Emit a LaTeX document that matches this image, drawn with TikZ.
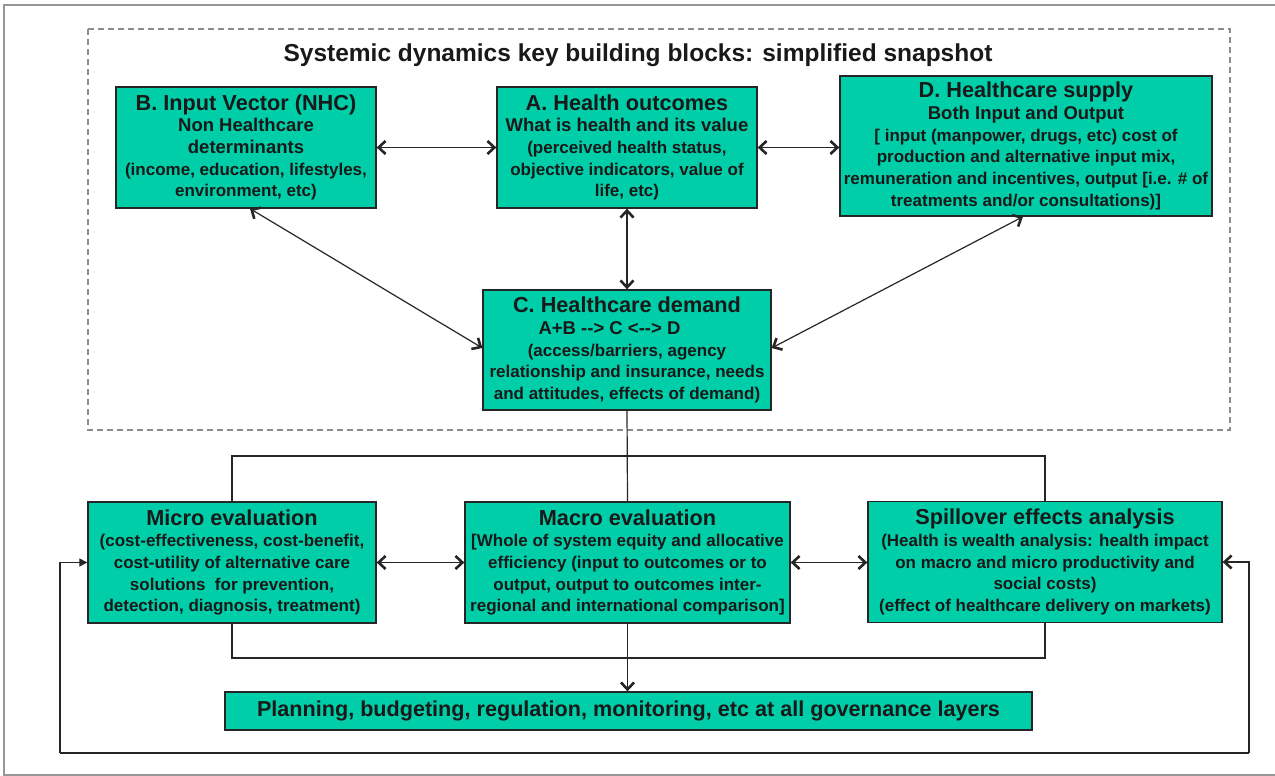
\documentclass[tikz,border=0pt]{standalone}
\usepackage{fontspec}
\setmainfont{Liberation Sans}
\usetikzlibrary{arrows.meta,calc}
\definecolor{boxfill}{RGB}{0,206,168}
\definecolor{framegray}{RGB}{150,150,150}
\definecolor{dashgray}{RGB}{140,140,140}
\newcommand{\boxttl}[1]{{\fontsize{21.7}{25}\selectfont #1}}
\newcommand{\boxsub}[1]{{\fontsize{18.5}{22}\selectfont #1}}
\begin{document}
\begin{tikzpicture}[x=1pt,y=-1pt,
  box/.style={draw=black!85, line width=1.3pt, fill=boxfill, align=center, inner sep=0pt,
    font=\bfseries\fontsize{17}{21.7}\selectfont, text=black!90},
  conn/.style={draw=black!85, line width=1.2pt},
  barb/.tip={Straight Barb[length=7pt,width=13pt,line width=2.6pt 0]},
  dbl/.style={conn, barb-barb},
  sgl/.style={conn, -barb},
  tri/.style={conn, -{Triangle[length=8pt,width=8pt]}}
]
\useasboundingbox (0,0) rectangle (1275,776);
% outer frame
\draw[framegray, line width=2pt] (1275,5) -- (4,5) -- (4,775) -- (1275,775);
% dashed frame
\draw[dashgray, line width=2pt, dash pattern=on 6pt off 4pt] (88,29) rectangle (1230,430);
\node[font=\bfseries\fontsize{24.5}{28}\selectfont, text=black!90] (title) at (638,55) {Systemic dynamics key building blocks: simplified snapshot};

% top boxes
\node[box, minimum width=260pt, minimum height=121pt] (B) at (246,147.5)
  {\boxttl{B. Input Vector (NHC)}\\ \boxsub{Non Healthcare}\\ \boxsub{determinants}\\ (income, education, lifestyles,\\ environment, etc)};
\node[box, minimum width=260pt, minimum height=121pt] (A) at (627,147.5)
  {\boxttl{A. Health outcomes}\\ \boxsub{What is health and its value}\\ (perceived health status,\\ objective indicators, value of\\ life, etc)};
\node[box, minimum width=372pt, minimum height=140pt] (D) at (1026,146)
  {\boxttl{D. Healthcare supply}\\ \boxsub{Both Input and Output}\\ {[} input (manpower, drugs, etc) cost of\\ production and alternative input mix,\\ remuneration and incentives, output [i.e. \# of\\ treatments and/or consultations)]};
\node[box, minimum width=288pt, minimum height=120pt] (C) at (627,350)
  {\boxttl{C. Healthcare demand}\\ \boxsub{A+B -{}-> C <-{}-> D\rule{35pt}{0pt}}\\ (access/barriers, agency\\ relationship and insurance, needs\\ and attitudes, effects of demand)};

% bottom boxes
\node[box, minimum width=288pt, minimum height=121pt] (Mi) at (232,562.5)
  {\boxttl{Micro evaluation}\\ (cost-effectiveness, cost-benefit,\\ cost-utility of alternative care\\ solutions\ \ for prevention,\\ detection, diagnosis, treatment)};
\node[box, minimum width=325pt, minimum height=121pt] (Ma) at (627.5,562.5)
  {\boxttl{Macro evaluation}\\ {[}Whole of system equity and allocative\\ efficiency (input to outcomes or to\\ output, output to outcomes inter-\\ regional and international comparison]};
\node[box, minimum width=354pt, minimum height=121pt] (Sp) at (1045,562)
  {\boxttl{Spillover effects analysis}\\ (Health is wealth analysis: health impact\\ on macro and micro productivity and\\ social costs)\\ (effect of healthcare delivery on markets)};
\node[box, minimum width=807pt, minimum height=38pt, font=\bfseries\fontsize{21.6}{25}\selectfont] (P) at (628.5,711)
  {Planning, budgeting, regulation, monitoring, etc at all governance layers};

% top connectors
\draw[dbl] (B.east) -- (A.west);
\draw[dbl] (A.east) -- (D.west |- A.east);
\draw[dbl] (A.south) -- (C.north);
\draw[dbl] ($(B.south)+(4,0)$) -- ($(C.west)+(0,-2)$);
\draw[dbl] ($(D.south)+(-3,0)$) -- ($(C.east)+(0,-2)$);

% distribution lines
\coordinate (topline) at (0,456);
\coordinate (botline) at (0,658);
\draw[conn] (C.south) -- (Ma.north);
\draw[conn] (Mi.north) |- (topline -| Sp.north) -- (Sp.north);
\draw[conn] (Mi.south) |- (botline -| Sp.south) -- (Sp.south);
\draw[sgl] (Ma.south) -- (Ma.south |- P.north);

% bottom horizontal connectors
\draw[dbl] (Mi.east) -- (Ma.west);
\draw[dbl] (Ma.east) -- (Sp.west |- Ma.east);

% feedback loop
\coordinate (fbL) at (60,753);
\coordinate (fbR) at (1249,753);
\draw[tri] (fbL) |- (Mi.west);
\draw[conn] (fbL) -- (fbR);
\draw[sgl] (fbR) |- (Sp.east);
\end{tikzpicture}
\end{document}
